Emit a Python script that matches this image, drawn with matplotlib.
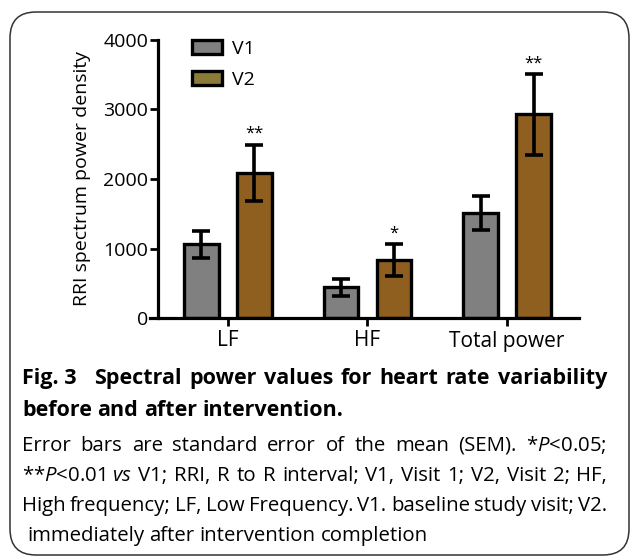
import matplotlib.pyplot as plt
from matplotlib.patches import Patch, FancyBboxPatch
import numpy as np

plt.rcParams['font.family'] = 'Open Sans'
plt.rcParams['mathtext.fontset'] = 'custom'
plt.rcParams['mathtext.rm'] = 'Open Sans'
plt.rcParams['mathtext.it'] = 'Open Sans:italic'

# data
categories = ['LF', 'HF', 'Total power']
v1_mean = [1060, 440, 1510]
v1_sem = [190, 120, 250]
v2_mean = [2090, 835, 2930]
v2_sem = [405, 230, 580]
stars = ['**', '*', '**']
yticks = [0, 1000, 2000, 3000, 4000]

title_lines = [
    ['Fig. 3', 'Spectral', 'power', 'values', 'for', 'heart', 'rate', 'variability'],
    ['before', 'and', 'after', 'intervention.'],
]
body_lines = [
    'Error bars are standard error of the mean (SEM). *$P$<0.05;'.split(' '),
    '**$P$<0.01 $vs$ V1; RRI, R to R interval; V1, Visit 1; V2, Visit 2; HF,'.split(' '),
    'High frequency; LF, Low Frequency. V1. baseline study visit; V2.'.split(' '),
    'immediately after intervention completion'.split(' '),
]

W, H = 630, 556
fig = plt.figure(figsize=(W / 100, H / 100), dpi=100)

# axes: x-axis runs from 150px to 579px, y from 318px (0) up to 40px (4000)
ax = fig.add_axes([150 / W, 1 - 318 / H, (579 - 150) / W, (318 - 40) / H])

# spine position first - it resets the ticks
for s in ['top', 'right']:
    ax.spines[s].set_visible(False)
ax.spines['left'].set_position(('axes', 8 / 429))
ax.spines['left'].set_linewidth(2.3)
ax.spines['bottom'].set_linewidth(2.3)

grey = '#808080'
brown = '#8f5f1f'
x = np.arange(len(categories))
bw = 0.245
off = 0.19
ekw = dict(elinewidth=2.6, capthick=2.6, ecolor='black')
ax.bar(x - off, v1_mean, bw, color=grey, edgecolor='black', linewidth=2.4,
       yerr=v1_sem, capsize=6.5, error_kw=ekw, zorder=2)
ax.bar(x + off, v2_mean, bw, color=brown, edgecolor='black', linewidth=2.4,
       yerr=v2_sem, capsize=6.5, error_kw=ekw, zorder=2)

for i, s in enumerate(stars):
    ax.text(x[i] + off, v2_mean[i] + v2_sem[i] + 40, s, ha='center', va='bottom',
            fontsize=12)

ax.set_xlim(-0.559, 2.516)
ax.set_ylim(0, 4000)
ax.set_xticks(x)
ax.set_xticklabels(categories)
ax.set_yticks(yticks)
ax.set_yticklabels([str(v) for v in yticks])
ax.tick_params(axis='both', width=2.0, length=6)
ax.tick_params(axis='x', labelsize=15, pad=3)
ax.tick_params(axis='y', labelsize=14, pad=1)
ax.set_ylabel('RRI spectrum power density', fontsize=14, labelpad=9)

handles = [Patch(facecolor=grey, edgecolor='black', linewidth=2.4),
           Patch(facecolor='#8b7b3b', edgecolor='black', linewidth=2.4)]
ax.legend(handles, ['V1', 'V2'], loc='upper left', bbox_to_anchor=(0.098, 1.0),
          frameon=False, fontsize=14, handlelength=1.55, handleheight=0.75,
          handletextpad=0.5, labelspacing=0.65, borderpad=0, borderaxespad=0)

# rounded frame around figure + caption
frame = FancyBboxPatch((0.10, 0.01), 6.19, 5.43,
                       boxstyle='round,pad=0,rounding_size=0.26',
                       transform=fig.dpi_scale_trans, facecolor='none',
                       edgecolor='#333333', linewidth=1.1)
fig.patches.append(frame)

renderer = fig.canvas.get_renderer()


def put_line(words, base_px, x0, x1, size, weight='normal', justify=True, extra_first=0):
    texts = [fig.text(0, 1 - base_px / H, w, fontsize=size, fontweight=weight,
                      ha='left', va='baseline') for w in words]
    widths = [t.get_window_extent(renderer).width for t in texts]
    space = fig.text(0, 0, 'a a', fontsize=size, fontweight=weight)
    aa = fig.text(0, 0, 'aa', fontsize=size, fontweight=weight)
    sp = space.get_window_extent(renderer).width - aa.get_window_extent(renderer).width
    space.remove()
    aa.remove()
    if justify and len(words) > 1:
        gap = (x1 - x0 - sum(widths) - extra_first) / (len(words) - 1)
    else:
        gap = sp
    xp = x0
    for k, (t, w) in enumerate(zip(texts, widths)):
        t.set_x(xp / W)
        xp += w + gap + (extra_first if k == 0 else 0)


put_line(title_lines[0], 384, 22, 607, 15.5, 'bold', extra_first=10)
put_line(title_lines[1], 416, 22, 607, 15.5, 'bold', justify=False)
base = [451, 481, 511, 541]
for k, words in enumerate(body_lines):
    last = k == len(body_lines) - 1
    put_line(words, base[k], 27 if last else 22, 607, 14.7, justify=not last)

fig.savefig('out.png', dpi=100)
